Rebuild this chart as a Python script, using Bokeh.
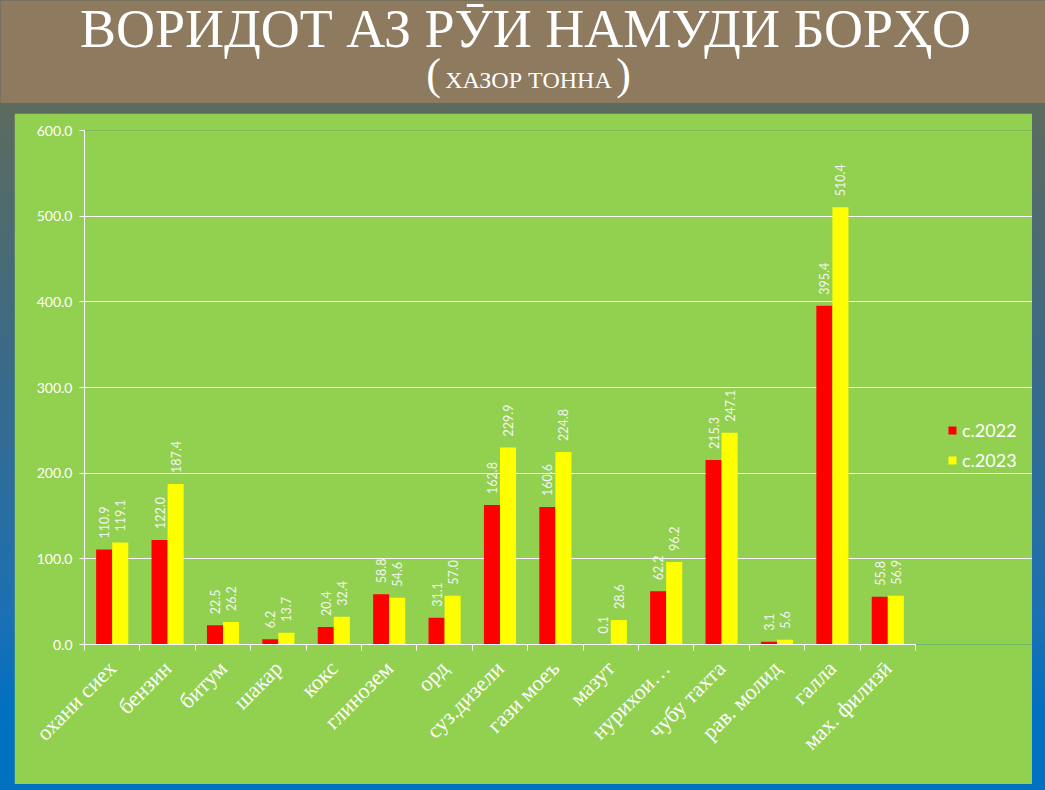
import math
from bokeh.plotting import figure
from bokeh.models import (ColumnDataSource, Range1d, FixedTicker, NumeralTickFormatter,
                          Legend, LegendItem, Label)
from bokeh.layouts import column
from bokeh.core.properties import value
from bokeh.embed import file_html
from bokeh.resources import INLINE

# ---------------- data ----------------
categories = ["охани сиех", "бензин", "битум", "шакар", "кокс", "глинозем", "орд",
              "суз.дизели", "гази моеъ", "мазут", "нурихои…", "чубу тахта",
              "рав. молид", "галла", "мах. филизӣ"]
y2022 = [110.9, 122.0, 22.5, 6.2, 20.4, 58.8, 31.1, 162.8, 160.6, 0.1, 62.2, 215.3, 3.1, 395.4, 55.8]
y2023 = [119.1, 187.4, 26.2, 13.7, 32.4, 54.6, 57.0, 229.9, 224.8, 28.6, 96.2, 247.1, 5.6, 510.4, 56.9]
series_names = ["с.2022", "с.2023"]
y_ticks = [0, 100, 200, 300, 400, 500, 600]
title_text = "ВОРИДОТ АЗ РӮИ НАМУДИ БОРҲО"
subtitle_text = "ХАЗОР ТОННА"

BROWN = "#8D7A5F"
GREEN = "#92D050"
RED = "#FF0000"
YELLOW = "#FFFF00"
LABEL_C = "#F4F4F4"

n = len(categories)
centers = [i + 0.5 for i in range(n)]
bw = 0.29
src = ColumnDataSource(dict(
    x1=[c - bw / 2 for c in centers], x2=[c + bw / 2 for c in centers],
    a=y2022, b=y2023,
    la=["%.1f" % v for v in y2022], lb=["%.1f" % v for v in y2023],
))

# ---------------- title band ----------------
W = 1045
TH = 103
tp = figure(width=W, height=TH, x_range=Range1d(0, W), y_range=Range1d(TH, 0),
            toolbar_location=None, output_backend="svg", min_border=0,
            x_axis_location=None, y_axis_location=None, frame_align=False)
tp.grid.visible = False
tp.outline_line_color = None
tp.background_fill_color = BROWN
tp.border_fill_color = BROWN
tp.add_layout(Label(x=525, y=28, text=title_text, text_align="center", text_baseline="middle",
                    text_font="Liberation Serif", text_font_size="54px", text_color="white"))
tp.add_layout(Label(x=528, y=79, text=subtitle_text, text_align="center", text_baseline="middle",
                    text_font="Liberation Serif", text_font_size="24px", text_color="white"))
tp.add_layout(Label(x=433, y=74, text="(", text_align="center", text_baseline="middle",
                    text_font="Liberation Serif", text_font_size="44px", text_color="white"))
tp.add_layout(Label(x=623, y=74, text=")", text_align="center", text_baseline="middle",
                    text_font="Liberation Serif", text_font_size="44px", text_color="white"))

# ---------------- chart ----------------
# frame spans from the y axis to the right edge of the green panel; the category
# axis and grid are bounded to the first n units, the rest holds the legend
FRAME_W = 1018 - 70
AXIS_W = 831
p = figure(width=1018, height=671, x_range=Range1d(0, n * FRAME_W / AXIS_W), y_range=Range1d(0, 600),
           toolbar_location=None, output_backend="svg", frame_align=False,
           min_border_left=70, min_border_right=0, min_border_top=17, min_border_bottom=140,
           margin=(10, 13, 6, 14))
p.background_fill_color = GREEN
p.border_fill_color = GREEN
p.outline_line_color = None

r1 = p.vbar(x="x1", top="a", width=bw, source=src, fill_color=RED, line_color=None)
r2 = p.vbar(x="x2", top="b", width=bw, source=src, fill_color=YELLOW, line_color=None)

p.text(x="x1", y="a", text="la", source=src, angle=math.pi / 2, text_align="left",
       text_baseline="middle", y_offset=-11, text_font=value("Lato"),
       text_font_size="12.5px", text_color=LABEL_C)
p.text(x="x2", y="b", text="lb", source=src, angle=math.pi / 2, text_align="left",
       text_baseline="middle", y_offset=-11, text_font=value("Lato"),
       text_font_size="12.5px", text_color=LABEL_C)

# x axis
p.xaxis.bounds = (0, n)
p.xaxis.ticker = FixedTicker(ticks=centers, minor_ticks=list(range(n + 1)))
p.xaxis.major_label_overrides = {c: cat for c, cat in zip(centers, categories)}
p.xaxis.major_label_orientation = math.pi / 4
p.xaxis.major_label_text_font = "Liberation Serif"
p.xaxis.major_label_text_font_size = "22px"
p.xaxis.major_label_text_color = "white"
p.xaxis.major_label_standoff = 14
p.xaxis.major_tick_line_color = None
p.xaxis.minor_tick_line_color = "white"
p.xaxis.minor_tick_in = 0
p.xaxis.minor_tick_out = 6
p.xaxis.axis_line_color = "white"

# y axis
p.yaxis.ticker = FixedTicker(ticks=y_ticks)
p.yaxis.formatter = NumeralTickFormatter(format="0.0")
p.yaxis.major_label_text_font = "Lato"
p.yaxis.major_label_text_font_size = "14px"
p.yaxis.major_label_text_color = "white"
p.yaxis.major_label_standoff = 7
p.yaxis.major_tick_line_color = "white"
p.yaxis.major_tick_in = 0
p.yaxis.major_tick_out = 5
p.yaxis.minor_tick_line_color = None
p.yaxis.axis_line_color = "white"

p.xgrid.grid_line_color = None
p.ygrid.grid_line_color = "white"
p.ygrid.grid_line_width = 1
p.ygrid.bounds = (0, n)

legend = Legend(items=[LegendItem(label=series_names[0], renderers=[r1]),
                       LegendItem(label=series_names[1], renderers=[r2])],
                location=(863, 173), orientation="vertical")
legend.background_fill_alpha = 0
legend.border_line_color = None
legend.padding = 0
legend.margin = 0
legend.spacing = 8
legend.glyph_width = 10
legend.glyph_height = 10
legend.label_height = 20
legend.label_standoff = 5
legend.label_text_font = "Lato"
legend.label_text_font_size = "18px"
legend.label_text_color = "white"
legend.label_text_baseline = "middle"
p.add_layout(legend, "center")

grad = ("linear-gradient(180deg, #5D6B5D 13%, #406A80 40%, #1C70B4 78%, #0070C0 90%)")
layout = column(tp, p, spacing=0, styles={"background": grad})

open("out.html", "w").write(file_html(layout, INLINE))
